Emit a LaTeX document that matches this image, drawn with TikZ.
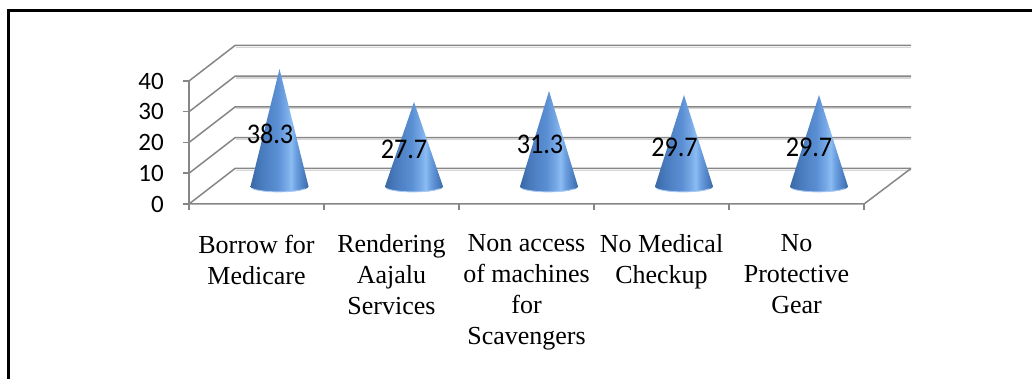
\documentclass[tikz,border=0pt]{standalone}
\usepackage{fontspec}
\setmainfont{Liberation Serif}
\newfontfamily\numfont{Carlito}

% cone body: dark rims, narrow bright streak right of centre (stops between 25bp and 75bp map onto the path)
\definecolor{coneA}{HTML}{3A68A6}
\definecolor{coneB}{HTML}{4A7DC0}
\definecolor{coneC}{HTML}{5B8FD3}
\definecolor{coneD}{HTML}{78AAE8}
\definecolor{coneE}{HTML}{8BBCF2}
\definecolor{coneF}{HTML}{6B9FE0}
\definecolor{coneG}{HTML}{4F82C4}
\definecolor{coneH}{HTML}{3A68A6}
\definecolor{conerim}{HTML}{A8C8F2}
\definecolor{gridc}{HTML}{868686}
\definecolor{gridshade}{HTML}{D6D6D6}
\pgfdeclarehorizontalshading{conebody}{100bp}{color(0bp)=(coneA); color(25bp)=(coneA); color(35bp)=(coneB); color(48bp)=(coneC); color(56bp)=(coneD); color(60bp)=(coneE); color(64bp)=(coneF); color(70bp)=(coneG); color(75bp)=(coneH); color(100bp)=(coneH)}

\tikzset{
  gridline/.style={draw=gridc, line width=1.5pt},
  gridglow/.style={draw=gridshade, line width=1.2pt},
  axisline/.style={draw=gridc, line width=1.5pt},
  ylab/.style={font=\numfont\fontsize{25}{30}\selectfont, anchor=east, inner sep=0pt},
  vlab/.style={font=\numfont\fontsize{28.5}{32}\selectfont, inner sep=0pt, xscale=0.92},
  catlab/.style={font=\fontsize{26}{31}\selectfont, align=center, anchor=north, inner sep=0pt},
  frameline/.style={draw=black, line width=2.6pt}
}

% a cone: base y, centre x, apex y (pixel units, y measured downwards)
\newcommand{\drawcone}[3]{%
  \shade[shading=conebody] (#2,-#3) -- (#2-29,-#1) arc[start angle=180, end angle=360, x radius=29, y radius=5.5] -- cycle;
  \draw[conerim, line width=0.9pt] (#2-27,-#1-2.2) arc[start angle=205, end angle=335, x radius=29, y radius=5.5];
}

\begin{document}
\begin{tikzpicture}[x=1pt, y=1pt]
\useasboundingbox (0,0) rectangle (1032,-379);
\clip (0,0) rectangle (1032,-379);

% outer frame (only the top and left sides fall inside the page)
\draw[frameline] (8.7,-420) -- (8.7,-10.7) -- (1060,-10.7);

% walls: gridlines at 0,10,...,40
\foreach \k in {0,...,4} {
  \pgfmathsetmacro{\fy}{204-30.75*\k}
  \pgfmathsetmacro{\by}{\fy-35.5}
  \draw[gridglow] (236,-\by-1.7) -- (911,-\by-1.7);
  \draw[gridline] (189,-\fy) -- (235,-\by) -- (911,-\by);
}
% floor front edge and right side
\draw[gridline] (189,-204) -- (864,-204) -- (911,-168.5);

% value axis with ticks
\draw[axisline] (189,-81) -- (189,-210);
\foreach \k in {0,...,4} {
  \pgfmathsetmacro{\fy}{204-30.75*\k}
  \draw[axisline] (182.5,-\fy) -- (189,-\fy);
}
% category ticks
\foreach \x in {324,459,594,729,864} {
  \draw[axisline] (\x,-204) -- (\x,-210);
}

% value axis labels
\node[ylab] (y0) at (164,-204) {0};
\node[ylab] (y1) at (164,-173.25) {10};
\node[ylab] (y2) at (164,-142.5) {20};
\node[ylab] (y3) at (164,-111.75) {30};
\node[ylab] (y4) at (164,-81) {40};

% cones
\drawcone{186.5}{279.5}{69}
\drawcone{186.5}{414}{102}
\drawcone{186.5}{549}{91}
\drawcone{186.5}{684}{95}
\drawcone{186.5}{819}{95}

% data labels
\node[vlab] (v1) at (270,-134) {38.3};
\node[vlab] (v2) at (404,-149) {27.7};
\node[vlab] (v3) at (540,-144.5) {31.3};
\node[vlab] (v4) at (674.5,-147.5) {29.7};
\node[vlab] (v5) at (809,-147.5) {29.7};

% category labels
\node[catlab] (c1) at (256.5,-234.5) {Borrow for\\Medicare};
\node[catlab] (c2) at (391.5,-234.5) {Rendering\\Aajalu\\Services};
\node[catlab] (c3) at (526.5,-234.5) {Non access\\of machines\\for\\Scavengers};
\node[catlab] (c4) at (661.5,-234.5) {No Medical\\Checkup};
\node[catlab] (c5) at (796.5,-234.5) {No\\Protective\\Gear};
\end{tikzpicture}
\end{document}
